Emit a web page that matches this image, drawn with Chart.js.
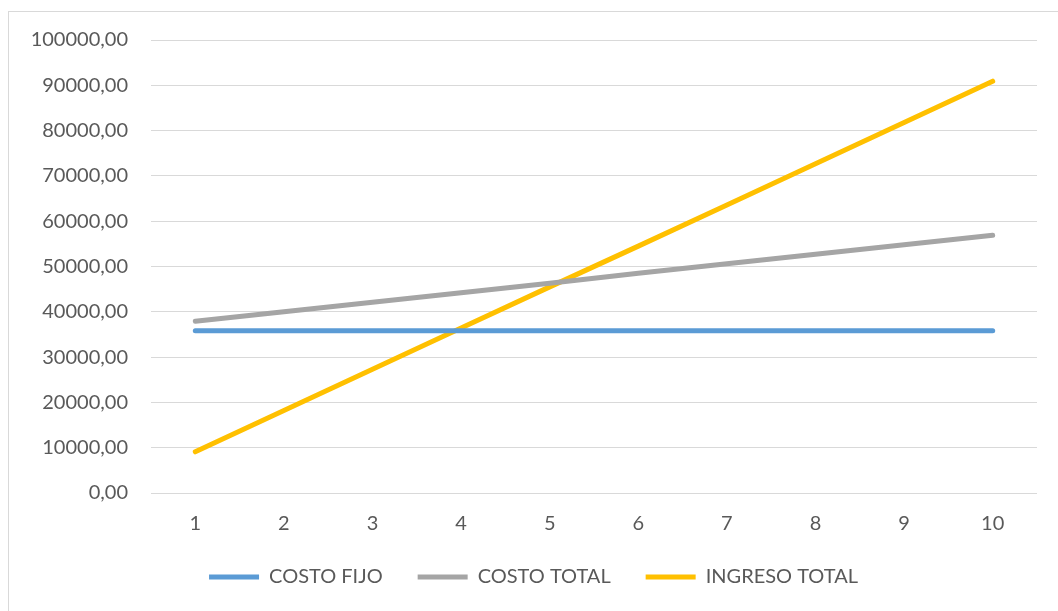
<!DOCTYPE html>
<html>
<head>
<meta charset="utf-8">
<script src="https://cdn.jsdelivr.net/npm/chart.js@4/dist/chart.umd.min.js"></script>
<style>
  html, body { margin: 0; padding: 0; background: #ffffff; overflow: hidden; }
  #frame { position: absolute; left: 8px; top: 11px; width: 2000px; height: 2000px; border: 1px solid #d9d9d9; box-sizing: border-box; }
  #wrap { position: absolute; left: 0; top: 0; width: 1058px; height: 611px; }
</style>
</head>
<body>
<div id="frame"></div>
<div id="wrap"><canvas id="c"></canvas></div>
<script>
const categories = ['1', '2', '3', '4', '5', '6', '7', '8', '9', '10'];
const costoFijo = [35800, 35800, 35800, 35800, 35800, 35800, 35800, 35800, 35800, 35800];
const costoTotal = [37900, 40000, 42100, 44200, 46300, 48500, 50600, 52700, 54800, 56900];
const ingresoTotal = [9100, 18200, 27300, 36400, 45500, 54500, 63600, 72700, 81800, 90900];
const seriesNames = ['COSTO FIJO', 'COSTO TOTAL', 'INGRESO TOTAL'];
const yMin = 0, yMax = 100000, yStep = 10000;

const colors = ['#5B9BD5', '#A5A5A5', '#FFC000'];
const textColor = '#595959';
const fontFamily = 'Lato, "Liberation Sans", sans-serif';

function ds(label, data, color) {
  return {
    label: label, data: data, borderColor: color, backgroundColor: color,
    borderWidth: 5, borderCapStyle: 'round', borderJoinStyle: 'round',
    pointRadius: 0, pointHoverRadius: 0, pointStyle: 'line', tension: 0, fill: false
  };
}

new Chart(document.getElementById('c'), {
  type: 'line',
  data: {
    labels: categories,
    datasets: [
      ds(seriesNames[0], costoFijo, colors[0]),
      ds(seriesNames[1], costoTotal, colors[1]),
      ds(seriesNames[2], ingresoTotal, colors[2])
    ]
  },
  options: {
    responsive: true,
    maintainAspectRatio: false,
    animation: false,
    layout: { padding: { left: 30, top: 40, right: 21, bottom: 14 } },
    plugins: {
      tooltip: { enabled: false },
      legend: {
        position: 'bottom',
        labels: {
          usePointStyle: true,
          pointStyleWidth: 50,
          padding: 35,
          color: textColor,
          font: { family: fontFamily, size: 20 }
        }
      }
    },
    scales: {
      x: {
        offset: true,
        grid: { display: false, drawTicks: false },
        border: { display: false },
        ticks: { color: textColor, font: { family: fontFamily, size: 20 }, padding: 19, maxRotation: 0 },
        afterFit: function (s) { s.height = 39; }
      },
      y: {
        min: yMin, max: yMax,
        grid: { color: '#d9d9d9', lineWidth: 1, drawTicks: false },
        border: { display: false },
        ticks: {
          stepSize: yStep,
          color: textColor,
          font: { family: fontFamily, size: 20 },
          padding: 23,
          callback: function (v) { return Number(v).toFixed(2).replace('.', ','); }
        },
        afterFit: function (s) { s.width = 121; }
      }
    }
  }
});
</script>
</body>
</html>
